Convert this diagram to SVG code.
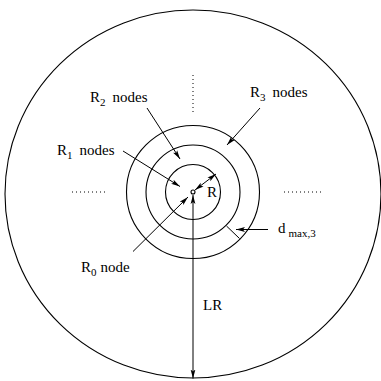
<svg xmlns="http://www.w3.org/2000/svg" width="381" height="381" viewBox="0 0 381 381">
<style>
.c{fill:none;stroke:#000;stroke-width:1.1}
.l{fill:none;stroke:#000;stroke-width:1;marker-end:url(#ah)}
.d{fill:none;stroke:#000;stroke-width:1;stroke-dasharray:1 3}
text{font-family:"Liberation Serif","Times New Roman",serif;font-size:15px;fill:#000}
.s{font-size:11px}
</style>
<defs>
<marker id="ah" markerWidth="10" markerHeight="6" refX="9" refY="3" orient="auto" markerUnits="userSpaceOnUse">
<path d="M0,0.6 L9,3 L0,5.4 L2,3 Z" fill="#000"/>
</marker>
<marker id="as" markerWidth="10" markerHeight="6" refX="1" refY="3" orient="auto" markerUnits="userSpaceOnUse">
<path d="M10,0.6 L1,3 L10,5.4 L8,3 Z" fill="#000"/>
</marker>
</defs>
<g id="field">
<ellipse class="c" cx="193" cy="194" rx="188" ry="184"/>
</g>
<g id="rings">
<circle class="c" cx="193" cy="192" r="27.5"/>
<circle class="c" cx="193" cy="192" r="47"/>
<circle class="c" cx="193" cy="192" r="66.5"/>
<circle class="c" cx="193" cy="192" r="2"/>
</g>
<g id="dots">
<line class="d" x1="72" y1="192" x2="108" y2="192"/>
<line class="d" x1="284" y1="192" x2="322" y2="192"/>
<line class="d" x1="193" y1="75" x2="193" y2="112"/>
</g>
<g id="connectors">
<line class="l" x1="147" y1="108" x2="180" y2="159"/>
<line class="l" x1="260" y1="108" x2="227" y2="145"/>
<line class="l" x1="123" y1="151" x2="180" y2="186.5"/>
<line class="l" x1="133" y1="251.5" x2="188" y2="197"/>
<line class="l" x1="195" y1="190" x2="216" y2="174" marker-start="url(#as)"/>
<line class="l" x1="193" y1="195" x2="193" y2="378.5" marker-start="url(#as)"/>
<line x1="226.5" y1="226" x2="239.5" y2="238.5" stroke="#000" stroke-width="1"/>
<line class="l" x1="268" y1="229.5" x2="236" y2="229.5" stroke="#555"/>
</g>
<g id="labels">
<text x="90" y="102">R<tspan class="s" dy="4">2</tspan><tspan dx="7" dy="-4">nodes</tspan></text>
<text x="250" y="97">R<tspan class="s" dy="4">3</tspan><tspan dx="7" dy="-4">nodes</tspan></text>
<text x="57" y="155">R<tspan class="s" dy="4">1</tspan><tspan dx="7" dy="-4">nodes</tspan></text>
<text x="81" y="272">R<tspan class="s" dy="4">0</tspan><tspan dx="4" dy="-4">node</tspan></text>
<text x="207" y="197">R</text>
<text x="278" y="233">d<tspan class="s" dx="3" dy="4">max,3</tspan></text>
<text x="203" y="310">LR</text>
</g>
</svg>
